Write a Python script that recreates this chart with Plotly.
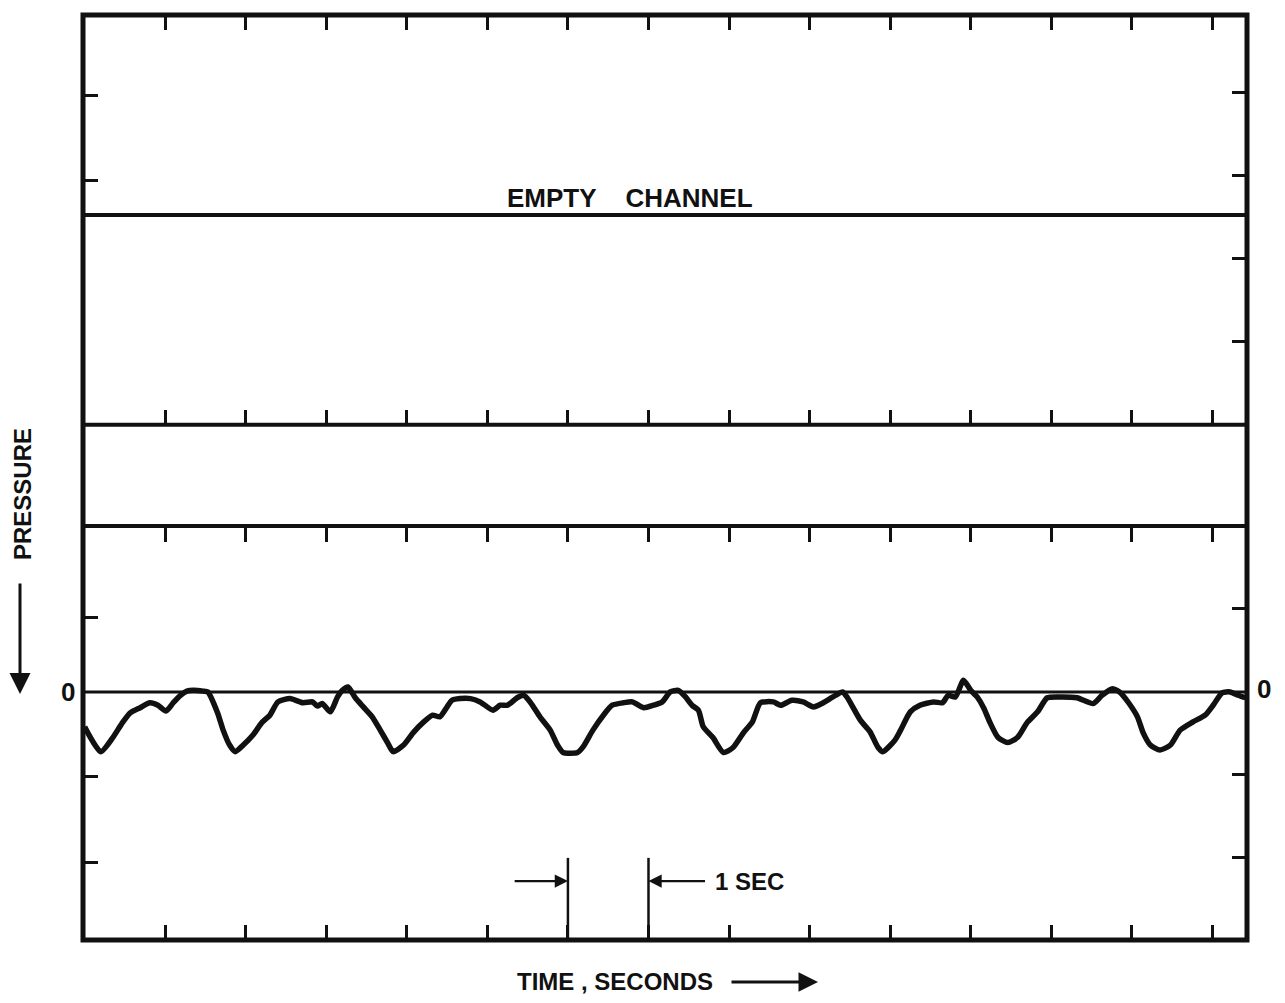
import plotly.graph_objects as go

# ---------------- data (time in seconds, deflection in chart divisions; negative = below zero line)
time_s = [0.00, 0.20, 0.35, 0.47, 0.57, 0.69, 0.81, 0.91, 1.01, 1.10, 1.19, 1.27, 1.35, 1.47, 1.53,
          1.65, 1.72, 1.80, 1.87, 1.97, 2.09, 2.20, 2.30, 2.40, 2.55, 2.71, 2.83, 2.89, 2.95, 3.05,
          3.14, 3.20, 3.27, 3.36, 3.46, 3.57, 3.67, 3.76, 3.83, 3.96, 4.08, 4.20, 4.32, 4.41, 4.50,
          4.56, 4.66, 4.79, 4.91, 5.07, 5.16, 5.25, 5.37, 5.45, 5.53, 5.66, 5.78, 5.87, 5.94, 6.12,
          6.19, 6.31, 6.44, 6.55, 6.69, 6.80, 6.94, 7.06, 7.17, 7.27, 7.37, 7.46, 7.54, 7.62, 7.68,
          7.80, 7.93, 8.05, 8.18, 8.29, 8.39, 8.55, 8.64, 8.78, 8.92, 9.05, 9.17, 9.29, 9.41, 9.47,
          9.63, 9.75, 9.85, 9.91, 10.06, 10.13, 10.25, 10.37, 10.54, 10.65, 10.72, 10.81, 10.91, 11.00,
          11.08, 11.16, 11.24, 11.34, 11.46, 11.58, 11.70, 11.83, 11.95, 12.11, 12.32, 12.52, 12.63,
          12.76, 12.86, 12.96, 13.07, 13.14, 13.23, 13.35, 13.48, 13.60, 13.76, 13.91, 14.01, 14.12,
          14.22, 14.32, 14.41]
pressure = [-0.42, -0.72, -0.55, -0.37, -0.25, -0.19, -0.13, -0.16, -0.23, -0.13, -0.04, 0.01, 0.02, 0.01, 0.00,
            -0.25, -0.46, -0.64, -0.72, -0.64, -0.52, -0.37, -0.28, -0.12, -0.08, -0.13, -0.12, -0.17, -0.14, -0.24,
            -0.06, 0.02, 0.06, -0.07, -0.18, -0.30, -0.46, -0.61, -0.72, -0.64, -0.49, -0.37, -0.28, -0.30, -0.18,
            -0.10, -0.08, -0.08, -0.12, -0.22, -0.16, -0.16, -0.07, -0.04, -0.12, -0.31, -0.46, -0.64, -0.73, -0.73,
            -0.66, -0.46, -0.28, -0.16, -0.13, -0.12, -0.19, -0.16, -0.12, 0.00, 0.02, -0.06, -0.16, -0.22, -0.42,
            -0.55, -0.73, -0.67, -0.49, -0.36, -0.13, -0.12, -0.16, -0.10, -0.12, -0.18, -0.13, -0.06, 0.00, -0.07,
            -0.34, -0.48, -0.67, -0.72, -0.58, -0.46, -0.24, -0.16, -0.12, -0.13, -0.04, -0.06, 0.14, 0.02,
            -0.06, -0.19, -0.37, -0.55, -0.61, -0.55, -0.37, -0.24, -0.07, -0.06, -0.07, -0.14, -0.04,
            0.04, -0.01, -0.13, -0.30, -0.49, -0.64, -0.70, -0.64, -0.46, -0.36, -0.28, -0.16, -0.01,
            0.00, -0.04, -0.07]

# channel baselines (divisions)
zero_line = 0.0
lower_channel_top = 2.0
upper_channel_base = 3.22
empty_channel_line = 5.75

x_ticks = list(range(1, 15))
y_ticks_right = [-2.0, -1.0, 1.0, 4.22, 5.22, 6.22, 7.22]
y_ticks_left = [-2.05, -1.02, 0.9, 6.17, 7.19]
sec_marks = [6, 7]

X_RANGE = [-0.02, 14.43]
Y_RANGE = [-2.99, 8.16]

# page layout (screen pixels; the page body adds an 8px offset)
OFF = 8
W, H = 1285 - OFF, 1003 - OFF
PL, PR, PT, PB = 83, 1247, 15, 940          # plot-area edges on screen
ML, MT = PL - OFF, PT - OFF
MR, MB = W - (PR - OFF), H - (PB - OFF)
plot_w = PR - PL
plot_h = PB - PT

def px(xs):
    return (xs - PL) / plot_w

def py(ys):
    return (PB - ys) / plot_h

def ypos(v):
    return (v - Y_RANGE[0]) / (Y_RANGE[1] - Y_RANGE[0])

FONT = "Liberation Sans, Arial, sans-serif"
BLACK = "#111111"

fig = go.Figure()
fig.add_trace(go.Scatter(x=time_s, y=pressure, mode="lines",
                         line=dict(color=BLACK, width=5.5, shape="spline", smoothing=0.6),
                         hoverinfo="skip", showlegend=False))
# dummy traces to create overlay subplots for tick-only axes
for xa, ya in [("x2", "y"), ("x3", "y"), ("x4", "y"), ("x", "y2")]:
    fig.add_trace(go.Scatter(x=[None], y=[None], xaxis=xa, yaxis=ya, showlegend=False,
                             hoverinfo="skip"))

tick_common = dict(ticks="inside", ticklen=15, tickwidth=3, tickcolor=BLACK,
                   showticklabels=False, showgrid=False, zeroline=False, showline=False,
                   fixedrange=True)

fig.update_layout(
    width=W, height=H,
    margin=dict(l=ML, r=MR, t=MT, b=MB, autoexpand=False),
    paper_bgcolor="white", plot_bgcolor="white",
    showlegend=False,
    xaxis=dict(range=X_RANGE, side="bottom", tickvals=x_ticks, anchor="y", **tick_common),
    xaxis2=dict(range=X_RANGE, side="top", tickvals=x_ticks, overlaying="x", anchor="y", **tick_common),
    xaxis3=dict(range=X_RANGE, side="bottom", tickvals=x_ticks, overlaying="x", anchor="free",
                position=ypos(upper_channel_base), **tick_common),
    xaxis4=dict(range=X_RANGE, side="top", tickvals=x_ticks, overlaying="x", anchor="free",
                position=ypos(lower_channel_top), **tick_common),
    yaxis=dict(range=Y_RANGE, side="right", tickvals=y_ticks_right, anchor="x", **tick_common),
    yaxis2=dict(range=Y_RANGE, side="left", tickvals=y_ticks_left, overlaying="y", anchor="x", **tick_common),
)

shapes = []
for yv, w in [(zero_line, 3), (lower_channel_top, 4), (upper_channel_base, 4), (empty_channel_line, 4)]:
    shapes.append(dict(type="line", xref="paper", yref="y", x0=0, x1=1, y0=yv, y1=yv,
                       line=dict(color=BLACK, width=w)))
for xv in sec_marks:
    shapes.append(dict(type="line", xref="x", yref="y", x0=xv, x1=xv, y0=Y_RANGE[0], y1=-2.0,
                       line=dict(color=BLACK, width=2.5)))
shapes.append(dict(type="rect", xref="paper", yref="paper", x0=0, x1=1, y0=0, y1=1,
                   line=dict(color=BLACK, width=5), fillcolor="rgba(0,0,0,0)"))
fig.update_layout(shapes=shapes)

ann = []
ann.append(dict(text="<b>EMPTY&nbsp;&nbsp;&nbsp;&nbsp;CHANNEL</b>", x=6.77, y=5.96, xref="x", yref="y",
                xanchor="center", yanchor="middle",
                showarrow=False, font=dict(family=FONT, size=26, color=BLACK)))
ann.append(dict(text="", x=6.0, y=-2.28, ax=5.32, ay=-2.28, xref="x", yref="y", axref="x", ayref="y",
                showarrow=True, arrowhead=2, arrowsize=1.2, arrowwidth=2.2, arrowcolor=BLACK))
ann.append(dict(text="", x=7.0, y=-2.28, ax=7.72, ay=-2.28, xref="x", yref="y", axref="x", ayref="y",
                showarrow=True, arrowhead=2, arrowsize=1.2, arrowwidth=2.2, arrowcolor=BLACK))
ann.append(dict(text="<b>1 SEC</b>", x=7.80, y=-2.28, xref="x", yref="y", xanchor="left", yanchor="middle",
                showarrow=False, font=dict(family=FONT, size=24, color=BLACK)))
ann.append(dict(text="<b>0</b>", x=px(68), y=zero_line, xref="paper", yref="y",
                xanchor="center", yanchor="middle",
                showarrow=False, font=dict(family=FONT, size=26, color=BLACK)))
ann.append(dict(text="<b>0</b>", x=px(1264), y=zero_line + 0.03, xref="paper", yref="y",
                xanchor="center", yanchor="middle",
                showarrow=False, font=dict(family=FONT, size=26, color=BLACK)))
ann.append(dict(text="<b>TIME , SECONDS</b>", x=px(615), y=py(981), xref="paper", yref="paper",
                xanchor="center", yanchor="middle",
                showarrow=False, font=dict(family=FONT, size=24, color=BLACK)))
ann.append(dict(text="", x=px(818), y=py(982), xref="paper", yref="paper",
                ax=-88, ay=0, showarrow=True, arrowhead=2, arrowsize=1.3, arrowwidth=3,
                arrowcolor=BLACK))
ann.append(dict(text="<b>PRESSURE</b>", x=px(22), y=py(494),
                xref="paper", yref="paper", textangle=-90, showarrow=False,
                xanchor="center", yanchor="middle",
                font=dict(family=FONT, size=24, color=BLACK)))
ann.append(dict(text="", x=px(20), y=py(694), xref="paper", yref="paper",
                ax=0, ay=-112, showarrow=True, arrowhead=2, arrowsize=1.4, arrowwidth=3,
                arrowcolor=BLACK))
fig.update_layout(annotations=ann)

fig.write_html("out.html")
